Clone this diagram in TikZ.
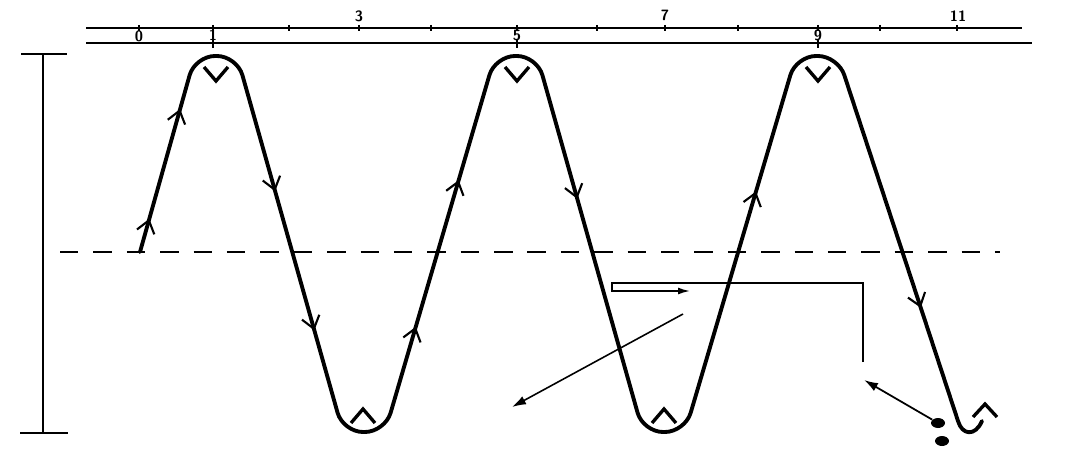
\documentclass[tikz,border=0pt]{standalone}
\usepackage{tikz}
\usetikzlibrary{arrows.meta}
\usetikzlibrary{decorations.markings}
\usetikzlibrary{shapes.geometric}

\tikzset{
    wave/.style={line width=2.2pt, line join=round, line cap=round},
    chevron/.style={line width=1.9pt, line join=miter},
    rule/.style={line width=1.1pt},
    tickmark/.style={line width=0.8pt},
    thinarrow/.style={line width=1pt, -{Latex[length=2.8mm,width=1.8mm]}},
    flow/.style={line width=1.2pt, postaction={decorate, decoration={markings,
        mark=at position #1 with {\arrow{Straight Barb[length=2.4mm,width=3.6mm]}}}}},
    ticklabel/.style={font=\sffamily\bfseries\fontsize{8.5}{10}\selectfont, inner sep=0pt},
    dot/.style={ellipse, fill, inner sep=0pt, minimum width=2.8mm, minimum height=2mm},
}

\begin{document}
\begin{tikzpicture}[x=0.2mm, y=-0.2mm]
            \useasboundingbox (0, 0) rectangle (1080, 467);

            \draw [rule] (86, 28) to (1022, 28);
            \draw [rule] (86, 43) to (1032, 43);
            \foreach \x in {139, 213, 289, 359, 431, 517, 597, 665, 738, 818, 880, 957}
                \draw [tickmark] (\x, 25) -- (\x, 31);
            \foreach \x in {213, 517, 818}
                \draw [tickmark] (\x, 40) -- (\x, 48);

            \node [ticklabel] (n0) at (139, 36) {0};
            \node [ticklabel] (n1) at (213, 35) {1};
            \node [ticklabel] (n3) at (359, 16) {3};
            \node [ticklabel] (n5) at (517, 35) {5};
            \node [ticklabel] (n7) at (665, 15) {7};
            \node [ticklabel] (n9) at (818, 35) {9};
            \node [ticklabel] (n11) at (958, 16) {11};

            \draw [rule] (21, 54) -- (67, 54);
            \draw [rule] (43, 54) -- (43, 433);
            \draw [rule] (20, 433) -- (68, 433);

            \draw [line width=1.4pt, dash pattern=on 10.5pt off 8.5pt] (60, 252) -- (1000, 252);

            \coordinate (s0) at (140, 252);
            \coordinate (c1l) at (195, 56);
            \coordinate (c1r) at (237, 56);
            \coordinate (t1l) at (343, 432);
            \coordinate (t1r) at (385, 432);
            \coordinate (c2l) at (495, 56);
            \coordinate (c2r) at (537, 56);
            \coordinate (t2l) at (643, 432);
            \coordinate (t2r) at (685, 432);
            \coordinate (c3l) at (796, 56);
            \coordinate (c3r) at (838, 56);
            \coordinate (h0) at (958, 421);
            \coordinate (h1) at (982, 421);

            \draw [wave, rounded corners=4mm] (s0) -- (c1l) -- (c1r) -- (t1l) -- (t1r) -- (c2l) -- (c2r)
                -- (t2l) -- (t2r) -- (c3l) -- (c3r) -- (h0);
            \draw [wave] (h0) .. controls (962, 435) and (975, 437) .. (h1);

            \path [flow=0.17, flow=0.73] (s0) -- (c1l);
            \path [flow=0.36, flow=0.73] (c1r) -- (t1l);
            \path [flow=0.28, flow=0.67] (t1r) -- (c2l);
            \path [flow=0.38] (c2r) -- (t2l);
            \path [flow=0.64] (t2r) -- (c3l);
            \path [flow=0.69] (c3r) -- (h0);

            \foreach \c in {216, 517, 818}
                \draw [chevron] (\c - 12, 67) -- (\c, 81) -- (\c + 12, 67);
            \foreach \t in {363, 664}
                \draw [chevron] (\t - 12, 423) -- (\t, 409) -- (\t + 12, 423);
            \draw [chevron] (973, 417) -- (985, 404) -- (997, 417);

            \coordinate (bendsrc) at (863, 362);
            \coordinate (bendtip) at (690, 291);
            \draw [thinarrow, -{Latex[length=2.4mm,width=1.4mm]}] (bendsrc) |- (612, 283) -- (612, 291) -- (bendtip);

            \coordinate (plume) at (683, 314);
            \coordinate (plumetip) at (512, 407);
            \draw [thinarrow, line width=0.9pt] (plume) -- (plumetip);

            \node [dot] (drop1) at (938, 423) {};
            \node [dot] (drop2) at (942, 441) {};
            \coordinate (droptip) at (864, 380);
            \draw [thinarrow] (drop1) -- (droptip);
        \end{tikzpicture}
\end{document}
